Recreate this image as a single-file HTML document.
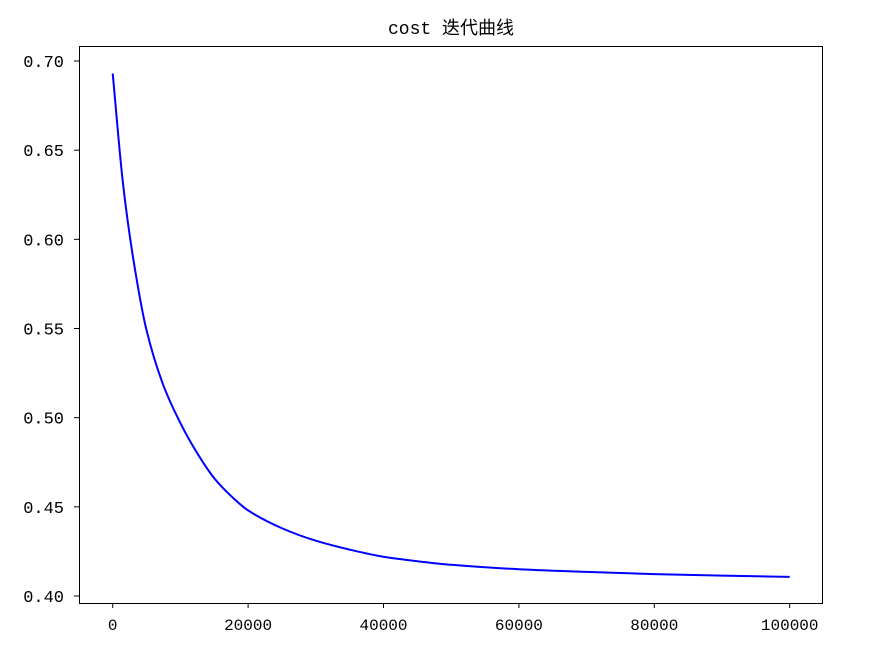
<!DOCTYPE html>
<html><head><meta charset="utf-8"><style>
body{margin:0;background:#fff;}
svg{display:block;font-family:"Liberation Mono","Noto Sans CJK SC",monospace;}
</style></head><body>
<svg id="chart" width="882" height="652">
<rect x="0" y="0" width="882" height="652" fill="#fff"/>
<text x="451" y="34" text-anchor="middle" font-size="18" fill="#000">cost 迭代曲线</text>
<g id="grid"></g>
<path id="curve" fill="none" stroke="#0000ff" stroke-width="2"/>
<rect x="79.5" y="46.5" width="743" height="557" fill="none" stroke="#000" stroke-width="1"/>
</svg>
<script>
const iterations=[0,1500,3000,5000,7500,10000,12500,15000,17500,20000,25000,30000,35000,40000,45000,50000,60000,70000,80000,90000,100000];
const costs=[0.693,0.632,0.590,0.549,0.518,0.497,0.480,0.466,0.456,0.448,0.438,0.431,0.426,0.422,0.4195,0.4175,0.415,0.4135,0.4123,0.4114,0.4107];
const xTicks=[0,20000,40000,60000,80000,100000];
const yTicks=[0.40,0.45,0.50,0.55,0.60,0.65,0.70];
const yTickLabels=["0.40","0.45","0.50","0.55","0.60","0.65","0.70"];

const X=v=>112.7+v/100000*677;
const Y=v=>596-(v-0.40)/0.30*535;
const ns="http://www.w3.org/2000/svg";
const g=document.getElementById('grid');
function mk(t,a){const e=document.createElementNS(ns,t);for(const k in a)e.setAttribute(k,a[k]);return e;}
xTicks.forEach(t=>{
  const l=mk('line',{x1:X(t),x2:X(t),y1:603,y2:608,stroke:'#000'});
  
  
  g.appendChild(l);
  const tx=mk('text',{x:X(t),y:630,'text-anchor':'middle','font-size':16});
  
  
  tx.textContent=String(t);g.appendChild(tx);
});
yTicks.forEach((t,i)=>{
  const l=mk('line',{x1:74,x2:79,y1:Y(t),y2:Y(t),stroke:'#000'});
  
  
  g.appendChild(l);
  const tx=mk('text',{x:64,y:Y(t)+6,'text-anchor':'end','font-size':17});
  
  
  tx.textContent=yTickLabels[i];g.appendChild(tx);
});
const px=iterations.map(X),py=costs.map(Y);
const n=px.length,d=[],m=[];
for(let i=0;i<n-1;i++)d.push((py[i+1]-py[i])/(px[i+1]-px[i]));
m[0]=d[0];m[n-1]=d[n-2];
for(let i=1;i<n-1;i++){m[i]=(d[i-1]*d[i]<=0)?0:2/(1/d[i-1]+1/d[i]);}
let p='M'+px[0]+','+py[0];
for(let i=0;i<n-1;i++){const h=(px[i+1]-px[i])/3;
p+=` C${px[i]+h},${py[i]+m[i]*h} ${px[i+1]-h},${py[i+1]-m[i+1]*h} ${px[i+1]},${py[i+1]}`;}
document.getElementById('curve').setAttribute('d',p);
</script>
</body></html>
